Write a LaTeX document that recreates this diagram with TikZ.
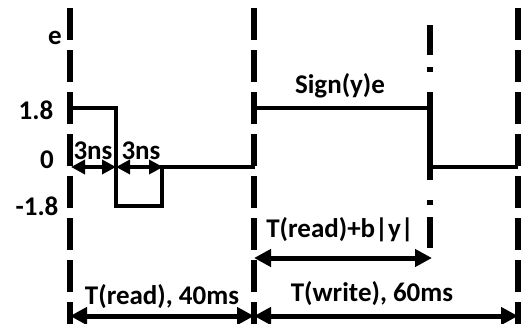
\documentclass[tikz,border=0pt]{standalone}
\usepackage{fontspec}
\setmainfont{Carlito}
\usetikzlibrary{arrows.meta}

\begin{document}
\begin{tikzpicture}[x=1pt, y=-1pt,
  lbl/.style={font=\bfseries\fontsize{27}{30}\selectfont, inner sep=0pt},
  guide/.style={line width=6pt, dash pattern=on 32pt off 10pt},
  wave/.style={line width=4.5pt},
  dur/.style={line width=5pt, {Triangle[length=17pt,width=17pt]}-{Triangle[length=17pt,width=17pt]}},
  tick/.style={line width=4.5pt, {Triangle[length=14pt,width=14pt]}-{Triangle[length=14pt,width=14pt]}}]
  \useasboundingbox (0,0) rectangle (528,324);
  % time marks
  \coordinate (a0) at (70,8);   \coordinate (a1) at (70,324);
  \coordinate (b0) at (254,8);  \coordinate (b1) at (254,324);
  \coordinate (d0) at (518,8);  \coordinate (d1) at (518,324);
  \draw[guide] (a0) -- (a1);
  \draw[guide] (b0) -- (b1);
  \draw[guide] (d0) -- (d1);
  \foreach \ya/\yb in {25/55, 67/72, 92/180, 200/205, 217/248}
    \draw[line width=6pt] (430,\ya) -- (430,\yb);
  % read pulse
  \draw[wave] (70,108) -- (116,108) -- (116,206) -- (162,206) -- (162,167) -- (255,167);
  % write pulse
  \draw[wave] (254,108) -- (430,108) -- (430,167) -- (518,167);
  % labels
  \node[lbl] (e) at (55,38) {e};
  \node[lbl] (hi) at (36,110) {1.8};
  \node[lbl] (zero) at (47,160) {0};
  \node[lbl] (lo) at (37,206) {-1.8};
  \node[lbl] (ns1) at (93,151) {3ns};
  \node[lbl] (ns2) at (141,151) {3ns};
  \node[lbl] (sgn) at (340,86) {Sign(y)e};
  \node[lbl] (tb) at (340,230) {T(read)+b|y|};
  \node[lbl] (trd) at (162,297) {T(read), 40ms};
  \node[lbl] (twr) at (372,294) {T(write), 60ms};
  % spans
  \coordinate (p0) at (71,167);  \coordinate (p1) at (116,167);
  \coordinate (p2) at (163,167);
  \coordinate (q0) at (254,258); \coordinate (q1) at (432,258);
  \coordinate (s0) at (70,316);  \coordinate (s1) at (254,316);
  \coordinate (s2) at (518,316);
  \draw[tick] (p0) -- (p1);
  \draw[tick] (p1) -- (p2);
  \draw[dur] (q0) -- (q1);
  \draw[dur] (s0) -- (s1);
  \draw[dur] (s1) -- (s2);
\end{tikzpicture}
\end{document}
